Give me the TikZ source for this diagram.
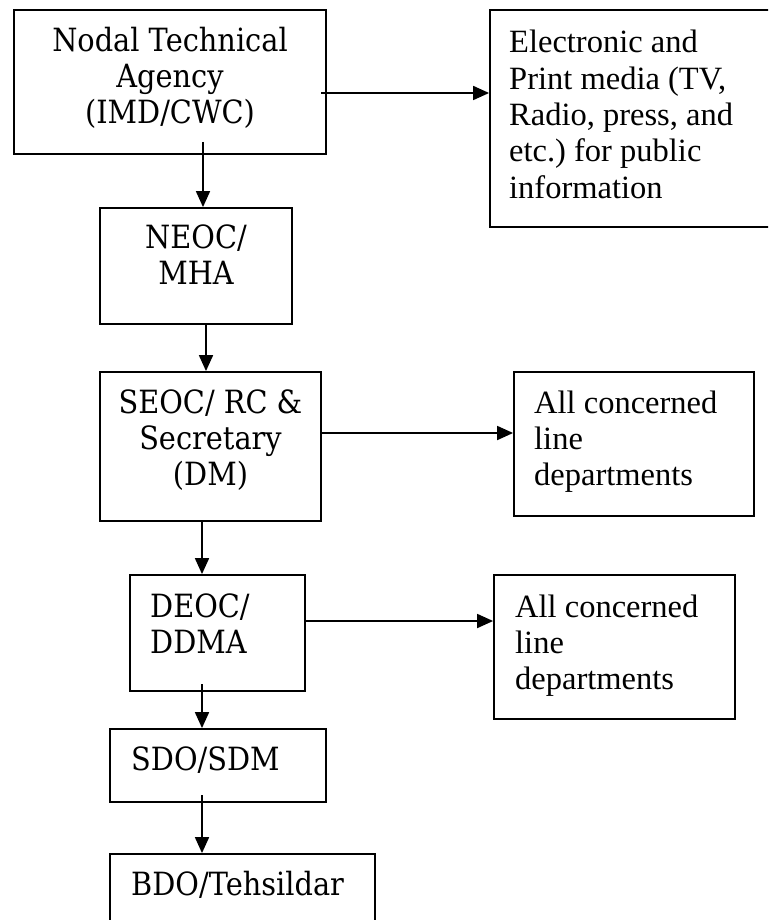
\documentclass[tikz,border=0pt]{standalone}
\usepackage{fontspec}
\setmainfont{Liberation Serif}
\newfontfamily\chfont{DejaVu Serif}[FakeStretch=0.9]
\usetikzlibrary{arrows.meta,calc}
\frenchspacing
\begin{document}
\begin{tikzpicture}[x=1pt,y=-1pt,
  box/.style={draw, line width=1.8pt, inner sep=0pt},
  arr/.style={line width=1.8pt, -{Triangle[length=16pt,width=14pt]}},
  ltxt/.style={inner sep=0pt, font=\chfont\fontsize{32}{36}\selectfont},
  rtxt/.style={inner sep=0pt, font=\fontsize{32.5}{36.3}\selectfont}]
\useasboundingbox (0,0) rectangle (768,920);
\clip (0,0) rectangle (768,920);
% boxes
\node[box, minimum width=312pt, minimum height=144pt] (nodal) at (170,82) {};
\node[box, minimum width=300pt, minimum height=217pt] (media) at (640,118.5) {};
\node[box, minimum width=192pt, minimum height=116pt] (neoc) at (196,266) {};
\node[box, minimum width=221pt, minimum height=149pt] (seoc) at (210.5,446.5) {};
\node[box, minimum width=240pt, minimum height=144pt] (all1) at (634,444) {};
\node[box, minimum width=175pt, minimum height=116pt] (deoc) at (217.5,633) {};
\node[box, minimum width=241pt, minimum height=144pt] (all2) at (614.5,647) {};
\node[box, minimum width=216pt, minimum height=73pt] (sdo) at (218,765.5) {};
\node[box, minimum width=265pt, minimum height=96pt] (bdo) at (242.5,902) {};
% texts
\node[ltxt, anchor=base] (nodalt) at (170,52) {\begin{tabular}[t]{@{}c@{}}Nodal Technical\\Agency\\(IMD/CWC)\end{tabular}};
\node[rtxt, anchor=base west] (mediat) at (509,53) {\begin{tabular}[t]{@{}l@{}}Electronic and\\Print media (TV,\\Radio, press, and\\etc.) for public\\information\end{tabular}};
\node[ltxt, anchor=base] (neoct) at (196,248) {\begin{tabular}[t]{@{}c@{}}NEOC/\\MHA\end{tabular}};
\node[ltxt, anchor=base] (seoct) at (210.5,413) {\begin{tabular}[t]{@{}c@{}}SEOC/ RC \&\\Secretary\\(DM)\end{tabular}};
\node[rtxt, anchor=base west] (all1t) at (534,413) {\begin{tabular}[t]{@{}l@{}}All concerned\\line\\departments\end{tabular}};
\node[ltxt, anchor=base west] (deoct) at (150,617) {\begin{tabular}[t]{@{}l@{}}DEOC/\\DDMA\end{tabular}};
\node[rtxt, anchor=base west] (all2t) at (515,617) {\begin{tabular}[t]{@{}l@{}}All concerned\\line\\departments\end{tabular}};
\node[ltxt, anchor=base west] (sdot) at (131,770) {SDO/SDM};
\node[ltxt, anchor=base west] (bdot) at (131,895) {BDO/Tehsildar};
% connectors
\coordinate (s1) at (321,93);
\draw[arr] (s1) -- (s1 -| media.west);
\coordinate (s2) at (203,142);
\draw[arr] (s2) -- (s2 |- neoc.north);
\draw[arr] ([xshift=10pt]neoc.south) -- ([xshift=10pt]neoc.south |- seoc.north);
\draw[arr] ([yshift=13.5pt]seoc.east) -- ([yshift=13.5pt]seoc.east -| all1.west);
\draw[arr] ([xshift=-8.5pt]seoc.south) -- ([xshift=-8.5pt]seoc.south |- deoc.north);
\draw[arr] ([yshift=12pt]deoc.east) -- ([yshift=12pt]deoc.east -| all2.west);
\coordinate (s7) at (202,684);
\draw[arr] (s7) -- (s7 |- sdo.north);
\coordinate (s8) at (202,795);
\draw[arr] (s8) -- (s8 |- bdo.north);
\end{tikzpicture}
\end{document}
